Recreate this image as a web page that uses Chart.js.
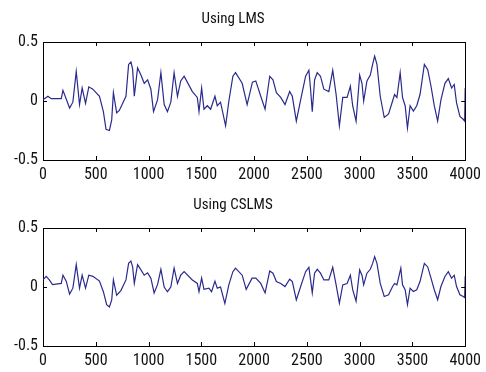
<!DOCTYPE html>
<html>
<head>
<meta charset="utf-8">
<script src="https://cdn.jsdelivr.net/npm/chart.js@4/dist/chart.umd.min.js"></script>
<style>
  body { margin: 0; background: #fff; overflow: hidden; }
  canvas { display: block; }
</style>
</head>
<body>
<canvas id="lmsChart" width="486" height="186"></canvas>
<canvas id="cslmsChart" width="486" height="186"></canvas>
<script>
/**
 *  Data
 */
var titles = ["Using LMS", "Using CSLMS"];
var xTicks = [0, 500, 1000, 1500, 2000, 2500, 3000, 3500, 4000];
var yTicks = [-0.5, 0, 0.5];

var lmsX = [0, 47, 78, 173, 189, 252, 283, 315, 346, 371, 403, 434, 472, 535, 572, 597, 629, 651, 667, 698,
    723, 786, 811, 833, 849, 865, 896, 928, 959, 991, 1022, 1047, 1085, 1117, 1148, 1179, 1211, 1242, 1274, 1305,
    1337, 1415, 1462, 1478, 1503, 1525, 1557, 1588, 1629, 1651, 1682, 1730, 1761, 1799, 1824, 1887, 1934, 1984, 2016, 2063,
    2104, 2148, 2179, 2211, 2252, 2293, 2337, 2362, 2400, 2441, 2488, 2519, 2535, 2551, 2573, 2598, 2629, 2661, 2708, 2745,
    2777, 2808, 2840, 2881, 2912, 2934, 2966, 3000, 3022, 3038, 3069, 3101, 3123, 3142, 3164, 3195, 3233, 3274, 3312, 3331,
    3353, 3384, 3406, 3431, 3453, 3478, 3509, 3541, 3572, 3613, 3645, 3676, 3707, 3739, 3770, 3808, 3840, 3871, 3896, 3918,
    3950, 3981, 3995, 4000];
var lmsY = [0.01, 0.04, 0.02, 0.02, 0.09, -0.06, -0.01, 0.25, -0.03, 0.11, -0.02, 0.12, 0.10, 0.04, -0.09, -0.24, -0.25, -0.16, 0.07, -0.10,
    -0.08, 0.04, 0.31, 0.33, 0.27, 0.04, 0.28, 0.22, 0.15, 0.18, 0.10, -0.09, 0.01, 0.24, -0.03, -0.09, -0.01, 0.24, 0.04, 0.17,
    0.21, 0.08, 0.03, -0.09, 0.11, -0.07, -0.04, -0.07, 0.04, -0.04, -0.01, -0.21, 0.00, 0.21, 0.24, 0.15, -0.03, 0.16, 0.17, 0.04,
    -0.07, 0.21, 0.18, 0.07, 0.03, -0.03, 0.08, 0.04, -0.17, 0.01, 0.21, 0.26, 0.10, -0.09, 0.18, 0.24, 0.21, 0.10, 0.08, 0.26,
    0.055, -0.21, 0.03, 0.03, 0.125, -0.04, -0.17, 0.22, 0.15, 0.00, 0.17, 0.22, 0.31, 0.38, 0.31, 0.04, -0.14, -0.11, 0.00, 0.055,
    0.03, 0.24, 0.03, -0.04, -0.23, -0.04, -0.085, -0.04, 0.055, 0.31, 0.265, 0.125, -0.04, -0.17, 0.01, 0.15, 0.19, 0.11, 0.14, -0.015,
    -0.13, -0.155, -0.17, 0.11];

var cslmsX = [0, 30, 60, 90, 173, 189, 220, 252, 283, 315, 346, 371, 403, 434, 472, 535, 572, 603, 629, 651,
    667, 698, 738, 786, 811, 833, 849, 865, 896, 928, 959, 991, 1022, 1053, 1085, 1117, 1148, 1179, 1211, 1242,
    1274, 1305, 1337, 1415, 1462, 1478, 1503, 1525, 1572, 1597, 1629, 1651, 1682, 1723, 1761, 1799, 1824, 1887, 1925, 1981,
    2016, 2063, 2104, 2148, 2179, 2211, 2252, 2293, 2337, 2362, 2400, 2441, 2488, 2519, 2535, 2551, 2573, 2598, 2629, 2661,
    2708, 2745, 2777, 2808, 2840, 2881, 2912, 2934, 2966, 3000, 3022, 3038, 3069, 3101, 3123, 3142, 3164, 3195, 3233, 3274,
    3312, 3331, 3353, 3390, 3406, 3431, 3453, 3478, 3509, 3541, 3572, 3613, 3645, 3676, 3707, 3739, 3770, 3808, 3840, 3871,
    3896, 3918, 3950, 3981, 3995, 4000];
var cslmsY = [0.06, 0.09, 0.06, 0.02, 0.03, 0.10, 0.05, -0.06, -0.01, 0.19, -0.01, 0.10, -0.01, 0.10, 0.09, 0.05, -0.04, -0.15, -0.17, -0.11,
    0.06, -0.07, -0.03, 0.06, 0.20, 0.22, 0.17, 0.03, 0.19, 0.145, 0.10, 0.12, 0.075, -0.05, 0.02, 0.15, 0.00, -0.04, 0.00, 0.16,
    0.03, 0.10, 0.13, 0.06, 0.03, -0.04, 0.075, -0.02, -0.01, -0.04, 0.05, -0.01, 0.00, -0.14, 0.02, 0.13, 0.16, 0.10, -0.02, 0.075,
    0.075, 0.03, -0.05, 0.135, 0.117, 0.046, 0.03, 0.004, 0.066, 0.046, -0.11, 0.004, 0.13, 0.167, 0.06, -0.05, 0.117, 0.15, 0.117, 0.06,
    0.06, 0.167, 0.018, -0.136, 0.018, 0.03, 0.10, -0.023, -0.12, 0.145, 0.10, 0.018, 0.117, 0.15, 0.20, 0.257, 0.20, 0.03, -0.08, -0.066,
    0.004, 0.03, 0.018, 0.16, 0.018, -0.023, -0.15, -0.01, -0.038, -0.023, 0.046, 0.20, 0.17, 0.075, -0.023, -0.108, 0.004, 0.089, 0.13, 0.075,
    0.10, 0.004, -0.066, -0.08, -0.09, 0.09];

var fontFamily = "'Roboto Condensed'";

/**
 *  MATLAB style inward tick marks on all four sides
 */
var tickPlugin = {
    id: "matlabTicks",
    afterDatasetsDraw: function (chart) {
        var ctx = chart.ctx;
        var area = chart.chartArea;
        var sx = chart.scales.x;
        var sy = chart.scales.y;
        var len = 4;
        ctx.save();
        ctx.strokeStyle = "#000";
        ctx.lineWidth = 1;
        ctx.beginPath();
        xTicks.forEach(function (v) {
            var px = Math.round(sx.getPixelForValue(v)) + 0.5;
            ctx.moveTo(px, area.top);
            ctx.lineTo(px, area.top + len);
            ctx.moveTo(px, area.bottom);
            ctx.lineTo(px, area.bottom - len);
        });
        yTicks.forEach(function (v) {
            var py = Math.round(sy.getPixelForValue(v)) + 0.5;
            ctx.moveTo(area.left, py);
            ctx.lineTo(area.left + len, py);
            ctx.moveTo(area.right, py);
            ctx.lineTo(area.right - len, py);
        });
        ctx.stroke();
        ctx.restore();
    }
};

// grid lines only at the two ends of each axis: they close the box
var edgeColor = function (lo, hi) {
    return function (c) {
        if (c.tick && (c.tick.value === lo || c.tick.value === hi)) {
            return "#000";
        }
        return "rgba(0,0,0,0)";
    };
};

var makeChart = function (id, title, xs, ys) {
    var points = xs.map(function (x, i) {
        return { x: x, y: ys[i] };
    });
    return new Chart(document.getElementById(id), {
        type: "line",
        data: {
            datasets: [{
                data: points,
                borderColor: "#2a2a8c",
                borderWidth: 1.2,
                pointRadius: 0
            }]
        },
        options: {
            responsive: false,
            animation: false,
            events: [],
            layout: { padding: { right: 20 } },
            plugins: {
                legend: { display: false },
                tooltip: { enabled: false },
                title: {
                    display: true,
                    text: title,
                    color: "#111",
                    font: { family: fontFamily, size: 15, weight: "normal" },
                    padding: { top: 10, bottom: 14 }
                }
            },
            scales: {
                x: {
                    type: "linear",
                    min: 0,
                    max: 4000,
                    afterBuildTicks: function (scale) {
                        scale.ticks = xTicks.map(function (v) { return { value: v }; });
                    },
                    grid: { display: true, drawTicks: false, lineWidth: 1, color: edgeColor(0, 4000) },
                    border: { display: true, color: "#000", width: 1 },
                    afterFit: function (scale) { scale.height = 26; },
                    ticks: {
                        color: "#111",
                        padding: 5,
                        maxRotation: 0,
                        autoSkip: false,
                        font: { family: fontFamily, size: 16 },
                        callback: function (v) { return String(v); }
                    }
                },
                y: {
                    min: -0.5,
                    max: 0.5,
                    afterBuildTicks: function (scale) {
                        scale.ticks = yTicks.map(function (v) { return { value: v }; });
                    },
                    grid: { display: true, drawTicks: false, lineWidth: 1, color: edgeColor(-0.5, 0.5) },
                    border: { display: true, color: "#000", width: 1 },
                    afterFit: function (scale) { scale.width = 43; },
                    ticks: {
                        color: "#111",
                        padding: 5,
                        font: { family: fontFamily, size: 16 },
                        callback: function (v) { return String(v); }
                    }
                }
            }
        },
        plugins: [tickPlugin]
    });
};

makeChart("lmsChart", titles[0], lmsX, lmsY);
makeChart("cslmsChart", titles[1], cslmsX, cslmsY);
</script>
</body>
</html>
